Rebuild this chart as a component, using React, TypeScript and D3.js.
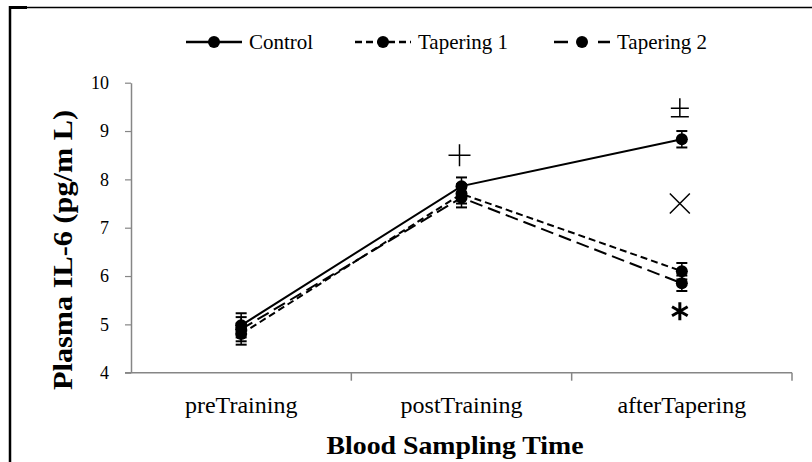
import { useEffect, useRef } from 'react';
import * as d3 from 'd3';

// values
const categories = ['preTraining', 'postTraining', 'afterTapering'];
const yTicks = [4, 5, 6, 7, 8, 9, 10];

const controlMean = [4.98, 7.86, 8.83];
const controlErr = [0.25, 0.18, 0.17];
const taper1Mean = [4.8, 7.7, 6.1];
const taper1Err = [0.22, 0.2, 0.17];
const taper2Mean = [4.9, 7.62, 5.85];
const taper2Err = [0.25, 0.2, 0.16];

const seriesNames = ['Control', 'Tapering 1', 'Tapering 2'];

// significance marks: category, value where the mark sits, mark kind
const marks = [
  { cat: 'postTraining', value: 8.5, kind: 'plus' },
  { cat: 'afterTapering', value: 9.47, kind: 'plusminus' },
  { cat: 'afterTapering', value: 7.5, kind: 'cross' },
  { cat: 'afterTapering', value: 5.27, kind: 'star' },
];

const W = 812;
const H = 462;
const FONT = 'Liberation Serif';
const AXIS = '#868686';

export default function App() {
  const svgRef = useRef<SVGSVGElement>(null);

  useEffect(() => {
    if (!svgRef.current) return;
    const svg = d3.select(svgRef.current);
    svg.selectAll('*').remove();

    const left = 131, right = 792, top = 82.7, bottom = 372.7;

    const x = d3.scaleBand<string>().domain(categories).range([left, right]);
    const y = d3.scaleLinear().domain([4, 10]).range([bottom, top]);
    const cx = (c: string) => (x(c) as number) + x.bandwidth() / 2;

    // outer frame
    svg.append('line').attr('x1', 9).attr('x2', W).attr('y1', 7.5).attr('y2', 7.5)
      .attr('stroke', '#000').attr('stroke-width', 1.5);
    svg.append('rect').attr('x', 9).attr('y', 6).attr('width', 18).attr('height', 3).attr('fill', '#000');
    svg.append('line').attr('x1', 10).attr('x2', 10).attr('y1', 6).attr('y2', H)
      .attr('stroke', '#000').attr('stroke-width', 2.5);

    // y axis
    svg.append('g')
      .attr('transform', `translate(${left},0)`)
      .call(d3.axisLeft(y).tickValues(yTicks).tickFormat(d3.format('d')).tickSize(6).tickSizeOuter(0).tickPadding(16))
      .call(g => g.select('.domain').attr('stroke', AXIS).attr('stroke-width', 1.5))
      .call(g => g.selectAll('.tick line').attr('stroke', AXIS).attr('stroke-width', 1.2))
      .call(g => g.selectAll('.tick text').attr('fill', '#000').attr('font-size', 18).attr('font-family', FONT));

    // x axis
    svg.append('line').attr('x1', left - 6).attr('x2', right).attr('y1', bottom).attr('y2', bottom)
      .attr('stroke', AXIS).attr('stroke-width', 1.5);
    const bounds = categories.map((c) => (x(c) as number) + x.bandwidth());
    svg.append('g').selectAll('line').data(bounds).join('line')
      .attr('x1', d => d).attr('x2', d => d).attr('y1', bottom).attr('y2', bottom + 8)
      .attr('stroke', AXIS).attr('stroke-width', 1.5);
    svg.append('g').selectAll('text').data(categories).join('text')
      .attr('x', d => cx(d)).attr('y', 413)
      .attr('text-anchor', 'middle').attr('font-size', 24).attr('font-family', FONT)
      .text(d => d);

    // axis titles
    svg.append('text')
      .attr('x', 455).attr('y', 454)
      .attr('text-anchor', 'middle').attr('font-size', 26).attr('font-weight', 'bold')
      .attr('font-family', FONT).attr('textLength', 257).attr('lengthAdjust', 'spacingAndGlyphs')
      .text('Blood Sampling Time');
    svg.append('text')
      .attr('transform', 'translate(72,250) rotate(-90)')
      .attr('text-anchor', 'middle').attr('font-size', 27).attr('font-weight', 'bold')
      .attr('font-family', FONT).attr('textLength', 280).attr('lengthAdjust', 'spacingAndGlyphs')
      .text('Plasma IL-6 (pg/m L)');

    // series
    const series = [
      { name: seriesNames[0], mean: controlMean, err: controlErr, dash: null as string | null },
      { name: seriesNames[1], mean: taper1Mean, err: taper1Err, dash: '7,4' },
      { name: seriesNames[2], mean: taper2Mean, err: taper2Err, dash: '13,6' },
    ];

    const line = d3.line<number>().x((_d, i) => cx(categories[i])).y(d => y(d));

    series.slice().reverse().forEach(s => {
      svg.append('path').datum(s.mean).attr('d', line)
        .attr('fill', 'none').attr('stroke', '#000').attr('stroke-width', 2)
        .attr('stroke-dasharray', s.dash);
    });

    series.forEach(s => {
      const g = svg.append('g');
      s.mean.forEach((m, i) => {
        const px = cx(categories[i]);
        const y0 = y(m - s.err[i]);
        const y1 = y(m + s.err[i]);
        g.append('line').attr('x1', px).attr('x2', px).attr('y1', y0).attr('y2', y1)
          .attr('stroke', '#000').attr('stroke-width', 1.5);
        [y0, y1].forEach(yy => {
          g.append('line').attr('x1', px - 5.5).attr('x2', px + 5.5).attr('y1', yy).attr('y2', yy)
            .attr('stroke', '#000').attr('stroke-width', 2);
        });
        g.append('circle').attr('cx', px).attr('cy', y(m)).attr('r', 6).attr('fill', '#000');
      });
    });

    // significance marks
    const mg = svg.append('g').attr('stroke', '#000').attr('fill', 'none');
    marks.forEach(mk => {
      const px = cx(mk.cat) - 2;
      const py = y(mk.value);
      if (mk.kind === 'plus') {
        mg.append('path').attr('d', `M${px - 11},${py}H${px + 11}M${px},${py - 11}V${py + 11}`)
          .attr('stroke-width', 1.5);
      } else if (mk.kind === 'plusminus') {
        mg.append('path')
          .attr('d', `M${px - 9},${py}H${px + 9}M${px},${py - 10}V${py + 8}M${px - 9},${py + 8.5}H${px + 9}`)
          .attr('stroke-width', 1.5);
      } else if (mk.kind === 'cross') {
        mg.append('path')
          .attr('d', `M${px - 10},${py - 10}L${px + 10},${py + 10}M${px + 10},${py - 10}L${px - 10},${py + 10}`)
          .attr('stroke-width', 1.5);
      } else {
        const r = 9;
        const arms = [90, 30, 150].map(a => (a * Math.PI) / 180);
        mg.append('path')
          .attr('d', arms.map(a =>
            `M${px + r * Math.cos(a)},${py - r * Math.sin(a)}L${px - r * Math.cos(a)},${py + r * Math.sin(a)}`).join(''))
          .attr('stroke-width', 3);
      }
    });

    // legend
    const legendY = 42;
    const legendX = [186, 355, 554];
    const legendDash = [null, '7,4', '14,30'];
    const lg = svg.append('g');
    seriesNames.forEach((name, i) => {
      const x0 = legendX[i];
      lg.append('line').attr('x1', x0).attr('x2', x0 + 56).attr('y1', legendY).attr('y2', legendY)
        .attr('stroke', '#000').attr('stroke-width', 2.5).attr('stroke-dasharray', legendDash[i]);
      lg.append('circle').attr('cx', x0 + 28).attr('cy', legendY).attr('r', 6).attr('fill', '#000');
      lg.append('text').attr('x', x0 + 63).attr('y', legendY).attr('dy', '0.33em')
        .attr('font-size', 21).attr('font-family', FONT).text(name);
    });
  }, []);

  return (
    <div style={{ position: 'fixed', left: 0, top: 0, width: W, height: H, background: '#fff' }}>
      <svg ref={svgRef} width={W} height={H} />
    </div>
  );
}
